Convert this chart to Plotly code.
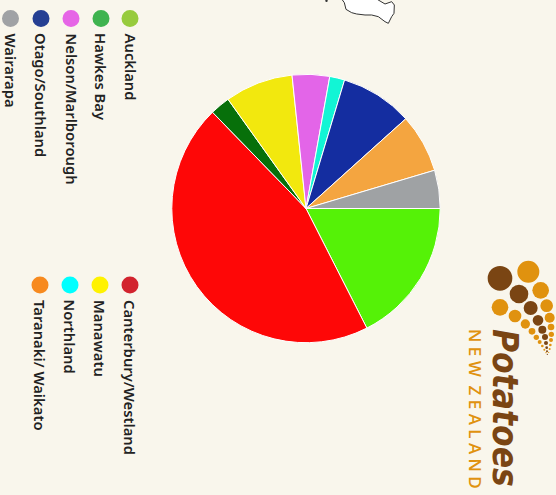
import plotly.graph_objects as go

W, H = 556, 495
regions = ["Auckland", "Canterbury/Westland", "Hawkes Bay", "Manawatu", "Nelson/Marlborough",
           "Northland", "Otago/Southland", "Taranaki/ Waikato", "Wairarapa"]
share = [17.5, 45.2, 2.4, 8.2, 4.5, 1.8, 8.7, 7.05, 4.6]
slice_colors = ["#55f207", "#fe0707", "#07700a", "#f2e80e", "#e365e8", "#12f5d5", "#142da0", "#f4a540", "#9fa2a4"]
key_colors = ["#97cb3d", "#d2232e", "#3fb34f", "#fff200", "#e665e6", "#00ffff", "#253f93", "#f78a1f", "#a0a2a5"]
key_pos = [(130, 18.5), (130, 285), (101, 18.5), (100, 285), (71, 18.5), (70, 285), (41, 18.5), (40, 285), (10.5, 18.5)]

BG = "#f9f6ec"
BROWN = "#7a4513"
AMBER = "#e0920f"

def px(x): return x / W
def py(y): return 1 - y / H

def circle(cx, cy, r, color):
    return dict(type="circle", xref="paper", yref="paper", x0=px(cx - r), x1=px(cx + r),
                y0=py(cy + r), y1=py(cy - r), fillcolor=color, line_width=0, layer="above")

shapes, notes = [], []
for name, c, (x, y) in zip(regions, key_colors, key_pos):
    shapes.append(circle(x, y, 8.5, c))
    notes.append(dict(text=name, x=px(x), y=py(y + 12.5), xref="paper", yref="paper", textangle=90,
                      xanchor="center", yanchor="top", showarrow=False,
                      font=dict(family="Noto Sans", size=14.8, color="#222222", weight=600)))

# logo, drawn with shapes (crop px / 3 + offset)
logo = [(150,85,37,BROWN),(207,132,28,BROWN),(242,174,21,BROWN),(264,211,16,BROWN),(277,239,12,BROWN),
        (285,261,9,BROWN),(288,279,6,BROWN),(290,293,4,BROWN),(291,304,3,BROWN),(292,313,2,BROWN),
        (235,65,33,AMBER),(272,121,25,AMBER),(290,167,19,AMBER),(299,203,15,AMBER),(303,231,10,AMBER),
        (304,253,8,AMBER),(303,270,6,AMBER),(301,285,4,AMBER),(299,297,3,AMBER),(296,307,2,AMBER),
        (150,172,25,AMBER),(195,198,19,AMBER),(226,222,14,AMBER),(246,244,10,AMBER),(259,262,8,AMBER),
        (269,276,6,AMBER),(277,288,4,AMBER),(283,299,3,AMBER),(288,308,2,AMBER)]
for x, y, r, c in logo:
    shapes.append(circle(450 + x / 3, 250 + y / 3, r / 3, c))

notes.append(dict(text="<b><i>Potatoes</i></b>", x=px(505), y=py(327), xref="paper", yref="paper", textangle=90,
                  xanchor="center", yanchor="top", showarrow=False,
                  font=dict(family="DejaVu Sans Condensed", size=35, color=BROWN)))
notes.append(dict(text="N E W  Z E A L A N D", x=px(476), y=py(327), xref="paper", yref="paper", textangle=90,
                  xanchor="center", yanchor="top", showarrow=False,
                  font=dict(family="Open Sans", size=17, color=AMBER, weight=600)))

# map fragment at the top edge
outline = [(95,-3),(103,8),(108,28),(125,38),(140,42),(165,45),(185,45),(205,50),(225,65),(235,70),
           (245,50),(252,40),(253,15),(245,5),(225,12),(200,-3)]
path = "M " + " L ".join(f"{px(310 + a / 3):.5f},{py(b / 3):.5f}" for a, b in outline) + " Z"
shapes.append(dict(type="path", path=path, xref="paper", yref="paper", fillcolor="#ffffff",
                   line=dict(color="#333333", width=1), layer="above"))
shapes.append(circle(326.5, 0.7, 1.2, "#333333"))

fig = go.Figure(go.Pie(labels=regions, values=share, sort=False, direction="clockwise", rotation=90,
                       textinfo="none", marker=dict(colors=slice_colors, line=dict(color="#ffffff", width=1)),
                       domain=dict(x=[px(171.8), px(440.2)], y=[py(342.7), py(74.3)])))
fig.update_layout(width=W, height=H, margin=dict(l=0, r=0, t=0, b=0), paper_bgcolor=BG, plot_bgcolor=BG,
                  showlegend=False, shapes=shapes, annotations=notes)
fig.write_html("out.html", config=dict(displayModeBar=False),
               post_script="document.body.style.margin='0';document.body.style.background='%s';" % BG)
